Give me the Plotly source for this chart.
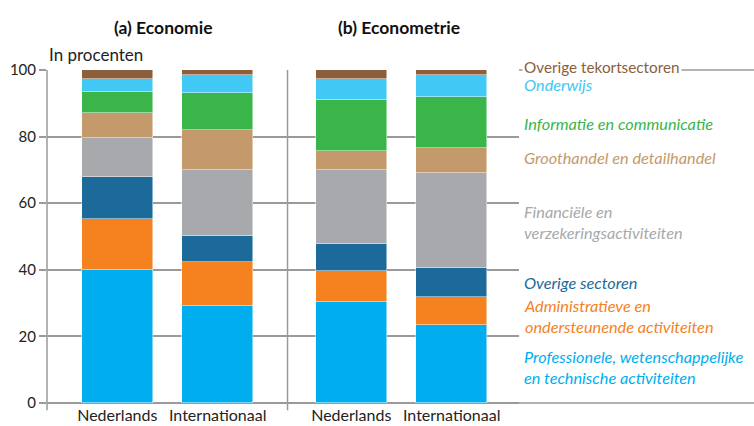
import plotly.graph_objects as go

# ---- data ----
bar_labels = ["Nederlands", "Internationaal", "Nederlands", "Internationaal"]
bar_pos = [0, 1, 2.33, 3.33]

sectors = [
    "Professionele, wetenschappelijke<br>en technische activiteiten",
    "Administratieve en<br>ondersteunende activiteiten",
    "Overige sectoren",
    "Financiële en<br>verzekeringsactiviteiten",
    "Groothandel en detailhandel",
    "Informatie en communicatie",
    "Onderwijs",
    "Overige tekortsectoren",
]
prof = [40.0, 29.1, 30.3, 23.5]
admin = [15.2, 13.1, 9.2, 8.3]
overig = [12.7, 8.0, 8.3, 8.8]
financ = [11.6, 19.9, 22.1, 28.6]
groot = [7.5, 11.8, 5.7, 7.3]
info = [6.4, 11.1, 15.5, 15.4]
onderwijs = [4.0, 5.4, 6.1, 6.5]
tekort = [2.6, 1.6, 2.8, 1.6]
series = [prof, admin, overig, financ, groot, info, onderwijs, tekort]

colors = ["#00AEEF", "#F5821F", "#1B6A9A", "#A7A9AC",
          "#C49A6C", "#3AB54A", "#41C8F4", "#8B5E3C"]
label_y = [0.107, 0.260, 0.363, 0.545, 0.736, 0.838, 0.955, 1.009]

FONT = "Lato"
GRID = "#9a9a9a"

fig = go.Figure()
for name, vals, col in zip(sectors, series, colors):
    fig.add_trace(go.Bar(
        x=bar_pos, y=vals, name=name.replace("<br>", " "),
        marker=dict(color=col, line=dict(color="rgba(255,255,255,0.6)", width=0.8)),
        width=0.71, showlegend=False, hoverinfo="y+name",
    ))

annotations = []
for name, col, yy in zip(sectors, colors, label_y):
    italic = name != "Overige tekortsectoren"
    txt = f"<i>{name}</i>" if italic else name
    annotations.append(dict(
        text=txt, x=1.006, xref="paper", y=yy, yref="paper",
        xanchor="left", yanchor="middle", align="left", showarrow=False,
        font=dict(family=FONT, size=16.3 if italic else 15.3, color=col),
        bgcolor="white" if not italic else "rgba(0,0,0,0)",
    ))

annotations += [
    dict(text="<b>(a) Economie</b>", x=0.247, xref="paper", y=1.129, yref="paper",
         xanchor="center", yanchor="middle", showarrow=False,
         font=dict(family=FONT, size=17.5, color="#111")),
    dict(text="<b>(b) Econometrie</b>", x=0.745, xref="paper", y=1.129, yref="paper",
         xanchor="center", yanchor="middle", showarrow=False,
         font=dict(family=FONT, size=17.5, color="#111")),
    dict(text="In procenten", x=0.0, xref="paper", y=1.048, yref="paper",
         xanchor="left", yanchor="middle", showarrow=False,
         font=dict(family=FONT, size=17, color="#222")),
]

shapes = [
    # left axis line
    dict(type="line", xref="paper", yref="paper", x0=0, x1=0, y0=-0.022, y1=1,
         line=dict(color=GRID, width=1.5)),
    # group separator
    dict(type="line", xref="x", yref="paper", x0=1.695, x1=1.695, y0=-0.022, y1=1,
         line=dict(color=GRID, width=1.5)),
    # extension of the 100 line around the top label
    dict(type="line", xref="paper", yref="paper", x0=1.0, x1=1.012, y0=1, y1=1,
         line=dict(color=GRID, width=1.5)),
    dict(type="line", xref="paper", yref="paper", x0=1.34, x1=1.5, y0=1, y1=1,
         line=dict(color=GRID, width=1.5)),
    # extension of the 0 line to the right edge
    dict(type="line", xref="paper", yref="paper", x0=1.0, x1=1.5, y0=0, y1=0,
         line=dict(color=GRID, width=1.5)),
]

fig.update_layout(
    template="none",
    width=754, height=426,
    margin=dict(l=47, r=235, t=70, b=23, pad=0),
    paper_bgcolor="white", plot_bgcolor="white",
    barmode="stack", bargap=0,
    font=dict(family=FONT, size=15, color="#222"),
    annotations=annotations, shapes=shapes,
    xaxis=dict(range=[-0.70, 4.0], tickvals=bar_pos, ticktext=bar_labels,
               showgrid=False, zeroline=False, showline=False, ticks="",
               automargin=False, ticklabelstandoff=1,
               tickfont=dict(family=FONT, size=16, color="#222"), fixedrange=True),
    yaxis=dict(range=[0, 100], tickvals=[0, 20, 40, 60, 80, 100],
               showgrid=True, gridcolor=GRID, gridwidth=1.5,
               zeroline=True, zerolinecolor=GRID, zerolinewidth=1.5,
               showline=False, ticks="outside", ticklen=7, tickcolor=GRID,
               tickwidth=1.5, automargin=False,
               tickfont=dict(family=FONT, size=15, color="#222"),
               fixedrange=True),
)

fig.write_html(
    "out.html",
    config={"displayModeBar": False},
    post_script="document.body.style.margin='0px';document.body.style.overflow='hidden';",
)
